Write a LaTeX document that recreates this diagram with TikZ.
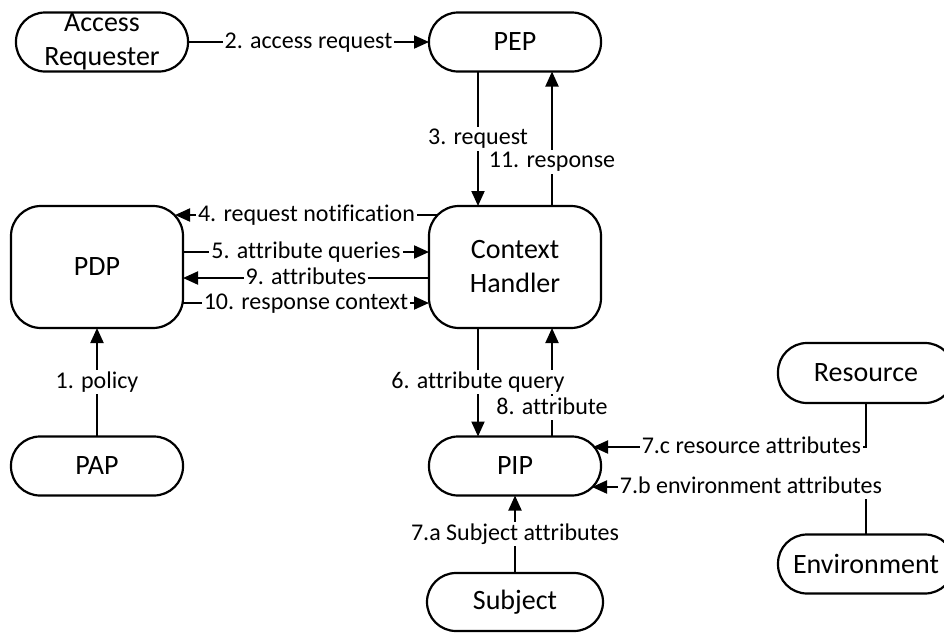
\documentclass[tikz,border=0pt]{standalone}
\usepackage{fontspec}
\setmainfont[Ligatures={TeX,NoCommon}]{Carlito}
\usepackage{tikz}
\usetikzlibrary{calc, positioning, arrows.meta}
\tikzset{
  block/.style={draw, line width=2.2pt, rounded corners=29pt, minimum width=172pt, minimum height=59pt, outer sep=0pt, inner sep=0pt, align=center, font=\fontsize{28}{34}\selectfont},
  bigblock/.style={block, rounded corners=30pt, minimum height=122pt},
  flow/.style={line width=2pt, -{Triangle[length=15pt, width=13pt]}},
  lbl/.style={fill=white, inner xsep=2pt, inner ysep=0pt, text height=18pt, text depth=6pt, font=\fontsize{24}{28}\selectfont}
}

\begin{document}
\begin{tikzpicture}[x=1pt, y=-1pt]
            \useasboundingbox (0,0) rectangle (944,632);
            % boxes
            \node[block] (ar) at (102,42) {Access\\Requester};
            \node[block] (pep) at (515,42) {PEP};
            \node[bigblock] (pdp) at (97,267) {PDP};
            \node[bigblock] (ch) at (515,267) {Context\\Handler};
            \node[block] (pap) at (97,466) {PAP};
            \node[block] (pip) at (515,466) {PIP};
            \node[block, minimum width=176pt, minimum height=58pt] (subj) at (515,602) {Subject};
            \node[block, minimum width=176pt, minimum height=60pt] (res) at (866,373) {Resource};
            \node[block, minimum width=176pt] (env) at (866,564) {Environment};
            \coordinate (c1) at (478,0);
            \coordinate (c2) at (552,0);
            \coordinate (r5) at (0,252);
            \coordinate (r9) at (0,278);
            \coordinate (r10) at (0,303);
            % flows
            \draw[flow] (ar) -- node[lbl]{2. access request} (pep);
            \draw[flow] (c1 |- pep.south) -- node[lbl]{3. request} (c1 |- ch.north);
            \draw[flow] (c2 |- ch.north) -- node[lbl, pos=.33]{11. response} (c2 |- pep.south);
            \draw[flow] ($(ch.north west)+(9,9)$) -- node[lbl]{4. request notification} ($(pdp.north east)+(-8,9)$);
            \draw[flow] (pdp.east |- r5) -- node[lbl]{5. attribute queries} (ch.west |- r5);
            \draw[flow] (ch.west |- r9) -- node[lbl]{9. attributes} (pdp.east |- r9);
            \draw[flow] (pdp.east |- r10) -- node[lbl]{10. response context} (ch.west |- r10);
            \draw[flow] (pap) -- node[lbl]{1. policy} (pdp);
            \draw[flow] (c2 |- pip.north) -- node[lbl, pos=.26]{8. attribute} (c2 |- ch.south);
            \draw[flow] (c1 |- ch.south) -- node[lbl]{6. attribute query} (c1 |- pip.north);
            \draw[flow] (subj) -- node[lbl]{7.a Subject attributes} (pip);
            \draw[flow] (res.south) |- node[lbl, pos=.71]{7.c resource attributes} ($(pip.east)+(-8,-19)$);
            \draw[flow] (env.north) |- node[lbl, pos=.71]{7.b environment attributes} ($(pip.east)+(-9,21)$);
\end{tikzpicture}
\end{document}
